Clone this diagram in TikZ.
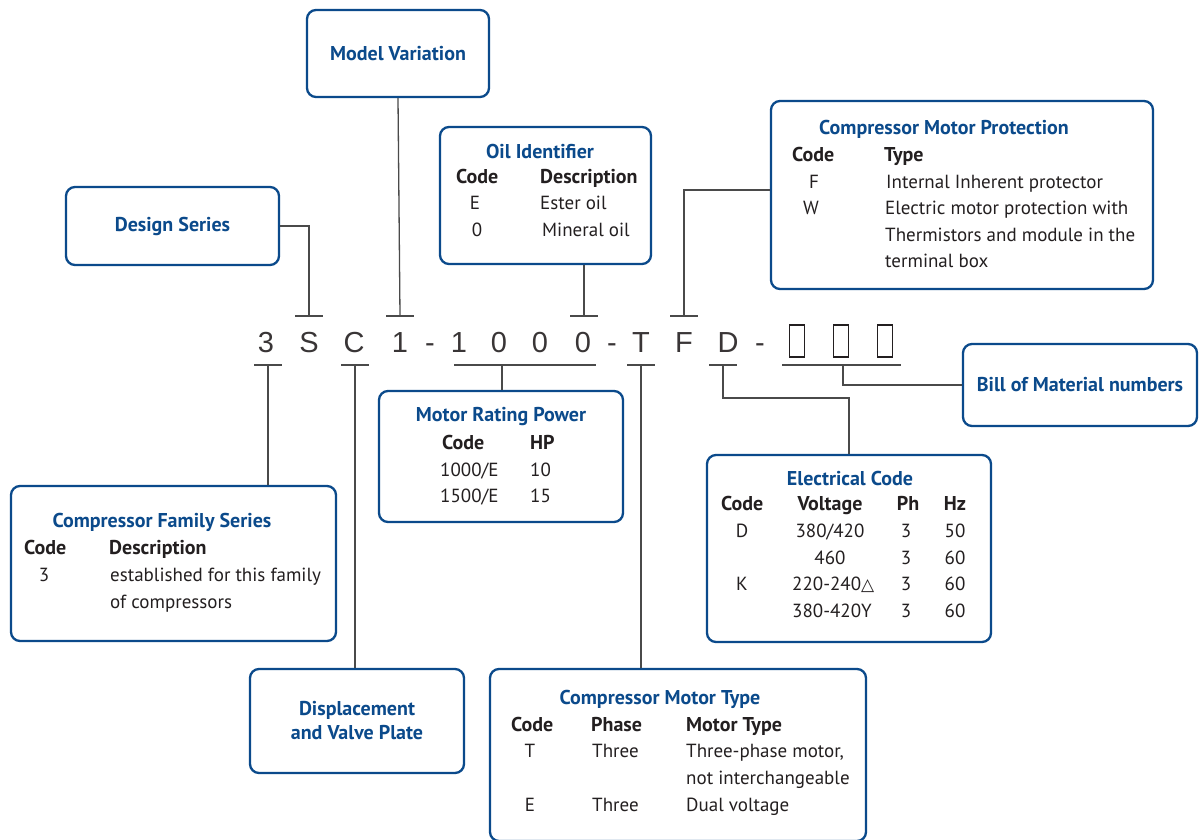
\documentclass[tikz,border=0pt]{standalone}
\usepackage{fontspec}
\setmainfont{PT Sans}
\newfontfamily\codefont{Liberation Sans}
\newfontfamily\symfont{DejaVu Sans}
\usetikzlibrary{calc}
\definecolor{eblue}{HTML}{0B4A8B}
\definecolor{etext}{HTML}{231F20}
\definecolor{eline}{HTML}{4A4A4A}
\begin{document}
\begin{tikzpicture}[x=1pt,y=-1pt,
  lbox/.style={draw=eblue,line width=2.3pt,rounded corners=9pt,inner sep=0pt,fill=white},
  conn/.style={draw=eline,line width=1.3pt},
  ttl/.style={font=\fontsize{20}{24}\selectfont\bfseries,text=eblue,inner sep=0pt},
  hd/.style={font=\fontsize{20}{24}\selectfont\bfseries,text=etext,inner sep=0pt,anchor=base west},
  hdc/.style={font=\fontsize{20}{24}\selectfont\bfseries,text=etext,inner sep=0pt,anchor=base},
  tx/.style={font=\fontsize{19}{22}\selectfont,text=etext,inner sep=0pt,anchor=base west},
  txc/.style={font=\fontsize{19}{22}\selectfont,text=etext,inner sep=0pt,anchor=base},
  ch/.style={font=\codefont\fontsize{29}{30}\selectfont,text=etext!90,inner sep=0pt,anchor=base},
  emptybox/.style={draw=etext,line width=1.6pt,minimum width=15pt,minimum height=32pt,inner sep=0pt}
]
\useasboundingbox (0,0) rectangle (1199,840);

% ---------- code string ----------
\foreach \xx/\cc/\nm in {266/3/c1,309/S/c2,354/C/c3,400/1/c4,430/-/c5,459/1/c6,499/0/c7,540/0/c8,583/0/c9,612/-/c10,641/T/c11,684/F/c12,728/D/c13,760/-/c14}
  \node[ch] (\nm) at (\xx,352.5) {\cc};
\node[emptybox] (e1) at (797,341) {};
\node[emptybox] (e2) at (841,341) {};
\node[emptybox] (e3) at (885,341) {};

% tick coordinates
\coordinate (tS) at (309,316);
\coordinate (t1) at (400,316);
\coordinate (t0) at (584,316);
\coordinate (tF) at (684,316);
\coordinate (b3) at (268,365);
\coordinate (bC) at (355,365);
\coordinate (bN) at (502,365);
\coordinate (bT) at (641,365);
\coordinate (bD) at (723,365);
\coordinate (bB) at (843,365);
\coordinate (ecj) at (849,398);

% ---------- boxes ----------
\node[lbox,minimum width=182pt,minimum height=87pt] (mv) at (398,53.5) {};
\node[ttl] (mvt) at (mv.center) {Model Variation};

\node[lbox,minimum width=213pt,minimum height=78pt] (ds) at (172.5,226) {};
\node[ttl] (dst) at (ds.center) {Design Series};

\node[lbox,minimum width=211pt,minimum height=137pt] (oil) at (545.5,195.5) {};
\node[ttl] (oilt) at (540,151) {Oil Identifier};
\node[hd] (oh1) at (456,183) {Code};
\node[hd] (oh2) at (540,183) {Description};
\node[txc] (or1a) at (475,209) {E};
\node[tx] (or1b) at (540,209) {Ester oil};
\node[txc] (or2a) at (477,236) {0};
\node[tx] (or2b) at (542,236) {Mineral oil};

\node[lbox,minimum width=382pt,minimum height=188pt] (prot) at (962,195) {};
\node[ttl] (prott) at (944,129) {Compressor Motor Protection};
\node[hd] (ph1) at (792,161) {Code};
\node[hd] (ph2) at (884,161) {Type};
\node[txc] (pr1a) at (814,188) {F};
\node[tx] (pr1b) at (886,188) {Internal Inherent protector};
\node[txc] (pr2a) at (811,214) {W};
\node[tx] (pr2b) at (885,214) {Electric motor protection with};
\node[tx] (pr2c) at (885,241) {Thermistors and module in the};
\node[tx] (pr2d) at (885,267) {terminal box};

\node[lbox,minimum width=234pt,minimum height=82pt] (bom) at (1080,385) {};
\node[ttl] (bomt) at (bom.center) {Bill of Material numbers};

\node[lbox,minimum width=244pt,minimum height=131pt] (mrp) at (501,456.5) {};
\node[ttl] (mrpt) at (501,417) {Motor Rating Power};
\node[hd] (mh1) at (442,449) {Code};
\node[hd] (mh2) at (530,449) {HP};
\node[tx] (mr1a) at (440,476) {1000/E};
\node[tx] (mr1b) at (530,476) {10};
\node[tx] (mr2a) at (440,502) {1500/E};
\node[tx] (mr2b) at (530,502) {15};

\node[lbox,minimum width=284pt,minimum height=187pt] (ec) at (849,548.5) {};
\node[ttl] (ect) at (850,478) {Electrical Code};
\node[hd] (eh1) at (721,510) {Code};
\node[hdc] (eh2) at (830,510) {Voltage};
\node[hdc] (eh3) at (908,510) {Ph};
\node[hdc] (eh4) at (955,510) {Hz};
\node[txc] (er1a) at (742,537) {D};
\node[txc] (er1b) at (830,537) {380/420};
\node[txc] (er1c) at (906,537) {3};
\node[txc] (er1d) at (955,537) {50};
\node[txc] (er2b) at (830,564) {460};
\node[txc] (er2c) at (906,564) {3};
\node[txc] (er2d) at (955,564) {60};
\node[txc] (er3a) at (742,590) {K};
\node[tx] (er3b) at (792,590) {220-240{\symfont\fontsize{17}{18}\selectfont △}};
\node[txc] (er3c) at (906,590) {3};
\node[txc] (er3d) at (955,590) {60};
\node[tx] (er4b) at (792,617) {380-420Y};
\node[txc] (er4c) at (906,617) {3};
\node[txc] (er4d) at (955,617) {60};

\node[lbox,minimum width=325pt,minimum height=155pt] (cfs) at (173.5,563.5) {};
\node[ttl] (cfst) at (162,522) {Compressor Family Series};
\node[hd] (ch1) at (24,554) {Code};
\node[hd] (ch2) at (109,554) {Description};
\node[txc] (cr1a) at (44,581) {3};
\node[tx] (cr1b) at (110,581) {established for this family};
\node[tx] (cr1c) at (110,608) {of compressors};

\node[lbox,minimum width=214pt,minimum height=104pt] (dvp) at (357,721) {};
\node[ttl,align=center,font=\fontsize{20}{24}\selectfont\bfseries] (dvpt) at (dvp.center) {Displacement\\and Valve Plate};

\node[lbox,minimum width=376pt,minimum height=172pt] (cmt) at (678,755) {};
\node[ttl] (cmtt) at (660,699) {Compressor Motor Type};
\node[hd] (th1) at (511,731) {Code};
\node[hd] (th2) at (591,731) {Phase};
\node[hd] (th3) at (686,731) {Motor Type};
\node[txc] (tr1a) at (530,757) {T};
\node[tx] (tr1b) at (592,757) {Three};
\node[tx] (tr1c) at (686,757) {Three-phase motor,};
\node[tx] (tr1d) at (686,784) {not interchangeable};
\node[txc] (tr2a) at (530,811) {E};
\node[tx] (tr2b) at (592,811) {Three};
\node[tx] (tr2c) at (686,811) {Dual voltage};

% ---------- ticks ----------
\foreach \t in {tS,t1,t0,tF,b3,bC,bT,bD}
  \draw[conn] ($(\t)+(-14,0)$) -- ($(\t)+(14,0)$);
\draw[conn] (454,365) -- (596,365);
\draw[conn] (782,365) -- (901,365);

% ---------- connectors ----------
\draw[conn] (ds.east) -| (tS);
\draw[conn] (mv.south) -- (t1);
\draw[conn] (oil.south -| t0) -- (t0);
\draw[conn] ([yshift=5pt]prot.west) -| (tF);
\draw[conn] (b3) -- (b3 |- cfs.north);
\draw[conn] (bC) -- (bC |- dvp.north);
\draw[conn] (bN) -- (bN |- mrp.north);
\draw[conn] (bT) -- (bT |- cmt.north);
\draw[conn] (bD) |- (ecj) -- (ec.north);
\draw[conn] (bB) |- (bom.west);
\end{tikzpicture}
\end{document}
